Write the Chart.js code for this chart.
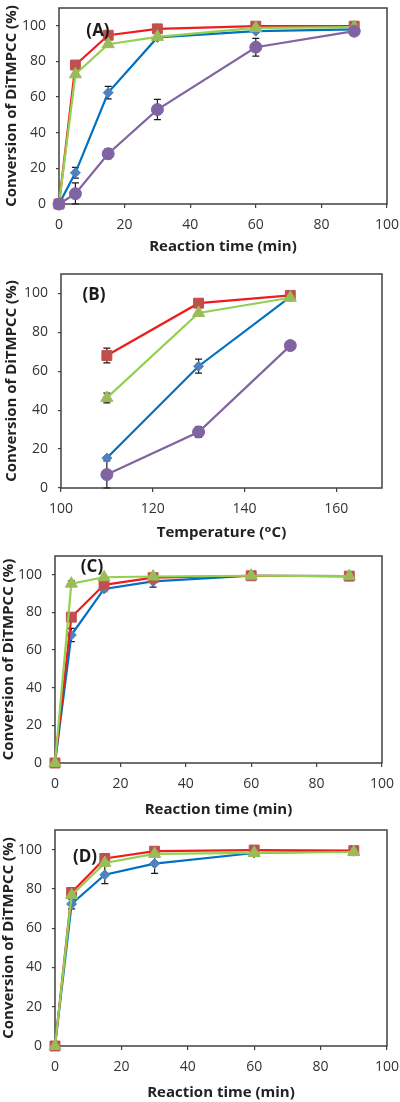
<!DOCTYPE html>
<html>
<head>
<meta charset="utf-8">
<script src="https://cdn.jsdelivr.net/npm/chart.js@4.4.1/dist/chart.umd.min.js"></script>
<style>
  html, body { margin: 0; padding: 0; background: #fff; }
  #wrap { position: relative; width: 400px; height: 1102px; overflow: hidden; }
  canvas { position: absolute; left: 0; }
</style>
</head>
<body>
<div id="wrap">
  <canvas id="chartA" width="400" height="262" style="top:0px"></canvas>
  <canvas id="chartB" width="400" height="286" style="top:262px"></canvas>
  <canvas id="chartC" width="400" height="274" style="top:548px"></canvas>
  <canvas id="chartD" width="400" height="280" style="top:822px"></canvas>
</div>
<script>
// ---- data ----
const timeMin   = [0, 5, 15, 30, 60, 90];
const tempC     = [110, 130, 150];
const yTicks    = [0, 20, 40, 60, 80, 100];
const timeTicks = [0, 20, 40, 60, 80, 100];
const tempTicks = [100, 120, 140, 160];

// (A) reaction time
const aBlue      = [0, 17.5, 62.5, 93.5, 97, 98];
const aBlueErr   = [0, 3, 3.5, 0, 0, 0];
const aRed       = [0, 78, 94.7, 98.3, 99.8, 99.8];
const aGreen     = [0, 72.8, 89.7, 93.8, 98.8, 99.3];
const aPurple    = [0, 5.8, 28.2, 53, 88, 97];
const aPurpleErr = [0, 6, 2.7, 5.7, 5, 0];

// (B) temperature
const bBlue      = [15.4, 62.6, 98.2];
const bBlueErr   = [0, 3.6, 0];
const bRed       = [68.1, 95, 99];
const bRedErr    = [3.8, 0, 0];
const bGreen     = [46.3, 90, 97.8];
const bGreenErr  = [2.5, 0, 0];
const bPurple    = [6.9, 28.8, 73.2];
const bPurpleErr = [7, 2.8, 0];

// (C)
const cBlue     = [0, 68, 92.5, 96.5, 99.5, 99.3];
const cBlueErr  = [0, 3.5, 1.5, 3, 0, 0];
const cRed      = [0, 77.5, 94.7, 98.5, 99.5, 99.3];
const cGreen    = [0, 95.3, 98.7, 99.1, 99.5, 99.3];
const cGreenErr = [0, 1.5, 0, 0, 0, 0];

// (D)
const dBlue    = [0, 72.3, 87.2, 92.9, 98.3, 99.2];
const dBlueErr = [0, 2.5, 4.5, 5, 0, 0];
const dRed     = [0, 78.2, 95.5, 99.2, 99.8, 99.5];
const dGreen   = [0, 76.8, 93.2, 97.8, 98.3, 98.8];

// ---- styles ----
const FONT = "'Open Sans', 'DejaVu Sans', sans-serif";
const AXIS = '#404040';
const TXT  = '#333333';
const YTITLE = 'Conversion of DiTMPCC (%)';

const ST = {
  blue:   { line: '#0070c0', fill: '#4f81bd', shape: 'rectRot',  r: 5,   order: 4 },
  red:    { line: '#ee1c1c', fill: '#c0504d', shape: 'rect',     r: 7,   order: 3 },
  green:  { line: '#92d050', fill: '#9bbb59', shape: 'triangle', r: 7,   order: 2 },
  purple: { line: '#8064a2', fill: '#8064a2', shape: 'circle',   r: 6,   order: 1 }
};

// frame, error bars, panel letter
const deco = {
  id: 'deco',
  beforeDatasetsDraw(chart) {
    const { ctx, chartArea: a, scales } = chart;
    ctx.save();
    ctx.strokeStyle = AXIS;
    ctx.lineWidth = 1.5;
    ctx.strokeRect(a.left, a.top, a.right - a.left, a.bottom - a.top);
    // error bars
    ctx.strokeStyle = '#1a1a1a';
    ctx.lineWidth = 1.2;
    chart.data.datasets.forEach(ds => {
      if (!ds.err) return;
      ds.data.forEach((pt, i) => {
        const e = ds.err[i];
        if (!e) return;
        const x  = scales.x.getPixelForValue(pt.x);
        const y1 = scales.y.getPixelForValue(pt.y + e);
        const y2 = scales.y.getPixelForValue(Math.max(pt.y - e, 0));
        ctx.beginPath();
        ctx.moveTo(x, y1); ctx.lineTo(x, y2);
        ctx.moveTo(x - 3.5, y1); ctx.lineTo(x + 3.5, y1);
        ctx.moveTo(x - 3.5, y2); ctx.lineTo(x + 3.5, y2);
        ctx.stroke();
      });
    });
    ctx.restore();
  },
  afterDraw(chart) {
    const p = chart.options.plugins.deco;
    const { ctx, chartArea: a } = chart;
    ctx.save();
    ctx.font = "bold 17px " + FONT;
    ctx.fillStyle = '#1a1a1a';
    ctx.textAlign = 'center';
    ctx.textBaseline = 'middle';
    ctx.fillText(p.letter, a.left + p.lx, a.top + p.ly);
    ctx.restore();
  }
};

function panel(id, p) {
  const datasets = p.series.map(s => ({
    label: s.name,
    data: p.xs.map((x, i) => ({ x: x, y: s.y[i] })),
    err: s.err,
    showLine: true,
    borderColor: s.st.line,
    borderWidth: 2.2,
    backgroundColor: s.st.fill,
    pointBackgroundColor: s.st.fill,
    pointBorderColor: s.st.fill,
    pointBorderWidth: 1,
    pointStyle: s.st.shape,
    pointRadius: s.st.r,
    pointHoverRadius: s.st.r,
    tension: 0,
    clip: false,
    order: s.st.order
  }));

  new Chart(document.getElementById(id), {
    type: 'scatter',
    data: { datasets },
    plugins: [deco],
    options: {
      responsive: false,
      animation: false,
      events: [],
      layout: { padding: { top: p.top, right: 400 - p.right, left: 0, bottom: 0 } },
      plugins: {
        legend: { display: false },
        tooltip: { enabled: false },
        deco: { letter: p.letter, lx: p.lx, ly: p.ly }
      },
      scales: {
        x: {
          type: 'linear', min: p.xMin, max: p.xMax,
          afterBuildTicks: s => { s.ticks = p.xTicks.map(v => ({ value: v })); },
          afterFit: s => { s.height = p.h - p.bottom; s.paddingLeft = 0; s.paddingRight = 0; },
          grid: { display: true, drawOnChartArea: false, drawTicks: true, tickLength: 4, color: AXIS, lineWidth: 1.2 },
          border: { display: false },
          ticks: { font: { family: FONT, size: 14 }, color: TXT, padding: 9, maxRotation: 0, autoSkip: false },
          title: { display: true, text: p.xTitle, color: '#222',
                   font: { family: FONT, size: 15, weight: 'bold' },
                   padding: { top: 0, bottom: p.xtPad } }
        },
        y: {
          type: 'linear', min: 0, max: 110,
          afterBuildTicks: s => { s.ticks = yTicks.map(v => ({ value: v })); },
          afterFit: s => { s.width = p.left; s.paddingTop = 0; s.paddingBottom = 0; },
          grid: { display: true, drawOnChartArea: false, drawTicks: true, tickLength: 3, color: AXIS, lineWidth: 1.2 },
          border: { display: false },
          ticks: { font: { family: FONT, size: 14 }, color: TXT, padding: 10 },
          title: { display: true, text: YTITLE, color: '#222',
                   font: { family: FONT, size: 15, weight: 'bold' },
                   padding: { top: p.ytPad, bottom: 0 } }
        }
      }
    }
  });
}

panel('chartA', {
  h: 262, top: 2, bottom: 204, left: 59, right: 387,
  xs: timeMin, xMin: 0, xMax: 100, xTicks: timeTicks,
  xTitle: 'Reaction time (min)', xtPad: 6, ytPad: 3,
  letter: '(A)', lx: 39, ly: 23,
  series: [
    { name: 'blue',   y: aBlue,   err: aBlueErr,   st: ST.blue },
    { name: 'red',    y: aRed,    err: null,       st: ST.red },
    { name: 'green',  y: aGreen,  err: null,       st: ST.green },
    { name: 'purple', y: aPurple, err: aPurpleErr, st: ST.purple }
  ]
});

panel('chartB', {
  h: 286, top: 12, bottom: 226, left: 61, right: 382,
  xs: tempC, xMin: 100, xMax: 170, xTicks: tempTicks,
  xTitle: 'Temperature (\u1D52C)', xtPad: 6, ytPad: 3,
  letter: '(B)', lx: 33, ly: 21,
  series: [
    { name: 'blue',   y: bBlue,   err: bBlueErr,   st: ST.blue },
    { name: 'red',    y: bRed,    err: bRedErr,    st: ST.red },
    { name: 'green',  y: bGreen,  err: bGreenErr,  st: ST.green },
    { name: 'purple', y: bPurple, err: bPurpleErr, st: ST.purple }
  ]
});

panel('chartC', {
  h: 274, top: 6, bottom: 215, left: 55, right: 382,
  xs: timeMin, xMin: 0, xMax: 100, xTicks: timeTicks,
  xTitle: 'Reaction time (min)', xtPad: 3, ytPad: 0,
  letter: '(C)', lx: 37, ly: 11,
  series: [
    { name: 'blue',  y: cBlue,  err: cBlueErr,  st: ST.blue },
    { name: 'red',   y: cRed,   err: null,      st: ST.red },
    { name: 'green', y: cGreen, err: cGreenErr, st: ST.green }
  ]
});

panel('chartD', {
  h: 280, top: 6, bottom: 224, left: 55, right: 387,
  xs: timeMin, xMin: 0, xMax: 100, xTicks: timeTicks,
  xTitle: 'Reaction time (min)', xtPad: 0, ytPad: 0,
  letter: '(D)', lx: 30, ly: 27,
  series: [
    { name: 'blue',  y: dBlue,  err: dBlueErr, st: ST.blue },
    { name: 'red',   y: dRed,   err: null,     st: ST.red },
    { name: 'green', y: dGreen, err: null,     st: ST.green }
  ]
});
</script>
</body>
</html>
